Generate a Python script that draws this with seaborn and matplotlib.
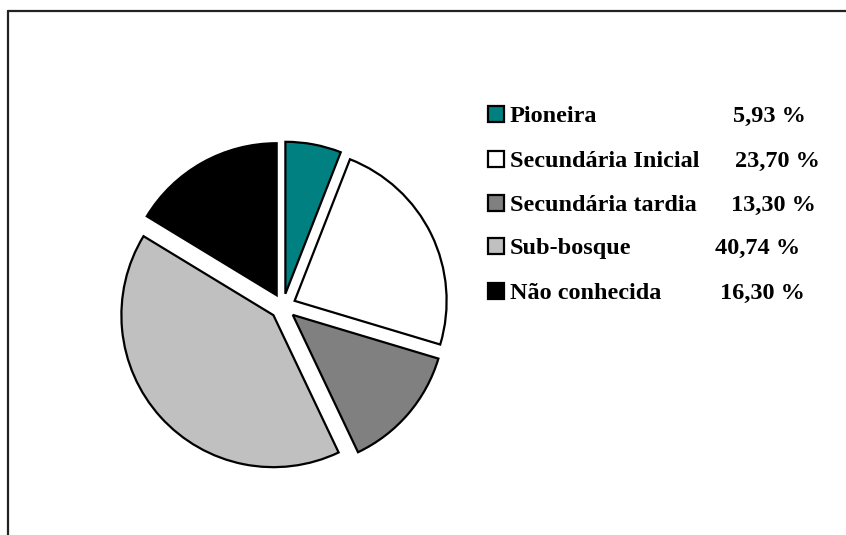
import matplotlib
matplotlib.use('Agg')
import matplotlib.pyplot as plt
from matplotlib.patches import Rectangle
from matplotlib.lines import Line2D
import seaborn as sns

sns.set_theme(style='white')
plt.rcParams['font.family'] = ['Liberation Serif', 'DejaVu Serif']

# dados
categorias = ['Pioneira', 'Secundária Inicial', 'Secundária tardia', 'Sub-bosque', 'Não conhecida']
valores = [5.93, 23.70, 13.30, 40.74, 16.30]
cores = ['#008080', '#ffffff', '#808080', '#c0c0c0', '#000000']

W, H = 846, 535
fig = plt.figure(figsize=(W / 100, H / 100), dpi=100)
fig.patch.set_facecolor('white')


def fx(x):
    return x / W


def fy(y):
    return (H - y) / H


# moldura (só topo e esquerda visiveis)
fig.add_artist(Line2D([fx(8), fx(8)], [fy(11), fy(H + 5)], transform=fig.transFigure,
                      color='#222222', lw=1.6))
fig.add_artist(Line2D([fx(8), fx(W + 5)], [fy(11), fy(11)], transform=fig.transFigure,
                      color='#222222', lw=1.6))

# pizza
R = 152
cx, cy = 283, 306.5
lim = 1.3
ax = fig.add_axes([fx(cx - lim * R), fy(cy + lim * R), 2 * lim * R / W, 2 * lim * R / H])
ax.pie(valores, colors=cores, startangle=90, counterclock=False,
       explode=[0.085] * len(valores),
       wedgeprops=dict(edgecolor='black', linewidth=1.6, joinstyle='miter'))
ax.set_xlim(-lim, lim)
ax.set_ylim(-lim, lim)
ax.set_aspect('equal')
ax.axis('off')

# legenda
row_top = [106, 151, 194.5, 238, 283]
pct_x = [733, 735, 731, 715, 720]
for i, (nome, v, c) in enumerate(zip(categorias, valores, cores)):
    top = row_top[i]
    fig.add_artist(Rectangle((fx(488), fy(top + 16)), 16 / W, 16 / H,
                             transform=fig.transFigure, facecolor=c,
                             edgecolor='black', lw=1.6))
    fig.text(fx(510), fy(top + 16), nome, fontsize=17.5, fontweight='bold',
             color='black', va='baseline', ha='left')
    txt = f'{v:.2f} %'.replace('.', ',')
    fig.text(fx(pct_x[i]), fy(top + 16), txt, fontsize=17.5, fontweight='bold',
             color='black', va='baseline', ha='left')

fig.savefig('out.png', dpi=100)
